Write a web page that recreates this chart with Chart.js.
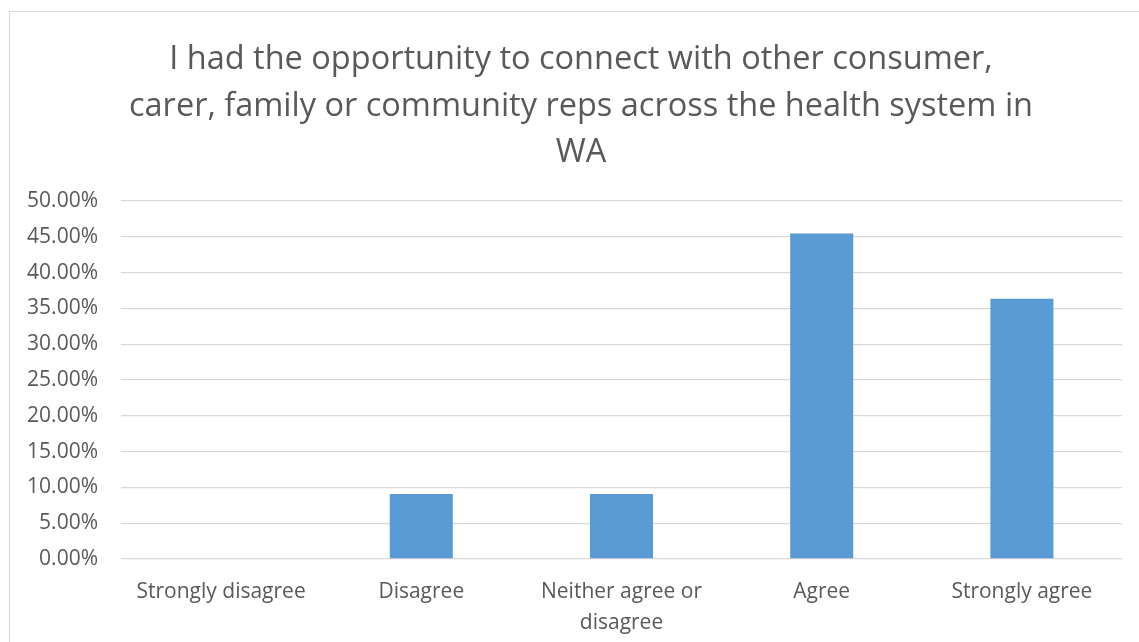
<!DOCTYPE html>
<html>
<head>
<meta charset="utf-8">
<script src="https://cdn.jsdelivr.net/npm/chart.js@4.4.1/dist/chart.umd.min.js"></script>
<style>
    html, body { margin: 0; padding: 0; background: #fff; overflow: hidden; }
    .frame { position: absolute; left: 9px; top: 11px; width: 1200px; height: 700px; border: 1px solid #d9d9d9; box-sizing: border-box; }
    .chart_title {
        position: absolute; left: 81px; top: 34px; width: 1000px; margin: 0;
        text-align: center; color: #595959;
        font: normal 32.5px/46.5px 'Open Sans', 'DejaVu Sans', sans-serif;
    }
    .chart_box { position: absolute; left: 0; top: 0; width: 1139px; height: 642px; }
</style>
</head>
<body>
<div class="frame"></div>
<div class="chart_box"><canvas id="chart_container"></canvas></div>
<h1 class="chart_title" id="chart_title"></h1>
<script>
const titleLines = [
    'I had the opportunity to connect with other consumer,',
    'carer, family or community reps across the health system in',
    'WA'
];
const categories = [
    'Strongly disagree',
    'Disagree',
    ['Neither agree or', 'disagree'],
    'Agree',
    'Strongly agree'
];
const responses = [0, 9.09, 9.09, 45.45, 36.36];
const yTicks = [0, 5, 10, 15, 20, 25, 30, 35, 40, 45, 50];

const FONT = "'Open Sans', 'DejaVu Sans', sans-serif";
const TEXT_COLOR = '#595959';

function renderTitle() {
    const el = document.getElementById('chart_title');
    titleLines.forEach((line, i) => {
        if (i > 0) el.appendChild(document.createElement('br'));
        el.appendChild(document.createTextNode(line));
    });
}

function createChart() {
    const ctx = document.getElementById('chart_container').getContext('2d');
    new Chart(ctx, {
        type: 'bar',
        data: {
            labels: categories,
            datasets: [{
                data: responses,
                backgroundColor: '#5b9bd5',
                borderWidth: 0,
                categoryPercentage: 1,
                barPercentage: 0.315
            }]
        },
        options: {
            responsive: true,
            maintainAspectRatio: false,
            animation: false,
            layout: {
                padding: { left: 12, right: 17, top: 201, bottom: 0 }
            },
            plugins: {
                legend: { display: false },
                tooltip: { enabled: false },
                title: { display: false }
            },
            scales: {
                x: {
                    grid: { display: false },
                    border: { display: false },
                    ticks: {
                        color: TEXT_COLOR,
                        font: { family: FONT, size: 21, lineHeight: 1.48 },
                        maxRotation: 0,
                        autoSkip: false,
                        padding: 9
                    },
                    afterFit: (scale) => { scale.height = 83; }
                },
                y: {
                    min: 0,
                    max: 50,
                    afterBuildTicks: (scale) => {
                        scale.ticks = yTicks.map(v => ({ value: v }));
                    },
                    grid: { color: '#d9d9d9', lineWidth: 1.3, drawTicks: false },
                    border: { display: false },
                    ticks: {
                        color: TEXT_COLOR,
                        font: { family: FONT, size: 21 },
                        padding: 23,
                        callback: (value) => value.toFixed(2) + '%'
                    },
                    afterFit: (scale) => { scale.width = 109; }
                }
            }
        }
    });
}

renderTitle();
createChart();
</script>
</body>
</html>
